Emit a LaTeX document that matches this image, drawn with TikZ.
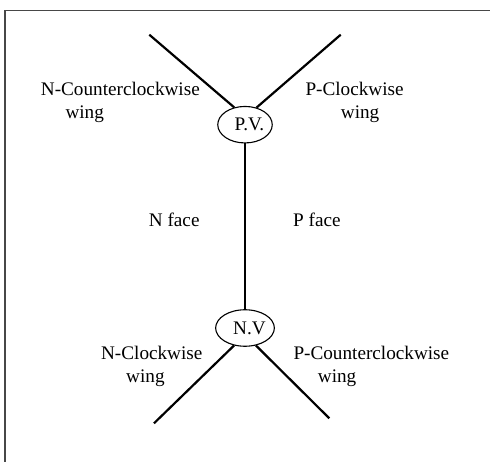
\documentclass[tikz,border=0pt]{standalone}
\usepackage{fontspec}
\setmainfont{Liberation Serif}
\usetikzlibrary{shapes.geometric}
\begin{document}
\begin{tikzpicture}[x=1pt,y=-1pt,
  lbl/.style={anchor=base west,inner sep=0pt,font=\fontsize{19.2}{22.6}\selectfont},
  vert/.style={draw,ellipse,line width=1.1pt,minimum width=48.6pt,minimum height=36.5pt,inner sep=0pt,font=\fontsize{19.2}{22.6}\selectfont},
  edge/.style={line width=2.2pt},
  frame/.style={draw=black!72,line width=1.5pt}]
\useasboundingbox (0,0) rectangle (490,462);
\draw[frame] (5,462) -- (5,10.5) -- (490,10.5);
% vertices
\node[vert] (pv) at (245,124.7) {\hspace*{9pt}P.V.};
\node[vert] (nv) at (245,328) {\hspace*{9pt}N.V};
% free ends
\coordinate (ul) at (149.3,34.7);
\coordinate (ur) at (340.7,34.7);
\coordinate (ll) at (154,423.3);
\coordinate (lr) at (329.3,418.3);
% edges
\draw[edge] (ul) -- (pv.122);
\draw[edge] (ur) -- (pv.56);
\draw[edge] (pv.south) -- (nv.north);
\draw[edge] (nv.238) -- (ll);
\draw[edge] (nv.302) -- (lr);
% labels
\node[lbl] (t1a) at (40.7,95.9) {N-Counterclockwise};
\node[lbl] (t1b) at (65.3,118.4) {wing};
\node[lbl] (t2a) at (305.3,95.9) {P-Clockwise};
\node[lbl] (t2b) at (340.7,118.4) {wing};
\node[lbl] (t3) at (148.7,226.7) {N face};
\node[lbl] (t4) at (293,226.7) {P face};
\node[lbl] (t5a) at (100.9,359.3) {N-Clockwise};
\node[lbl] (t5b) at (126,382.5) {wing};
\node[lbl] (t6a) at (293.3,359.3) {P-Counterclockwise};
\node[lbl] (t6b) at (317.7,382.5) {wing};
\end{tikzpicture}
\end{document}
